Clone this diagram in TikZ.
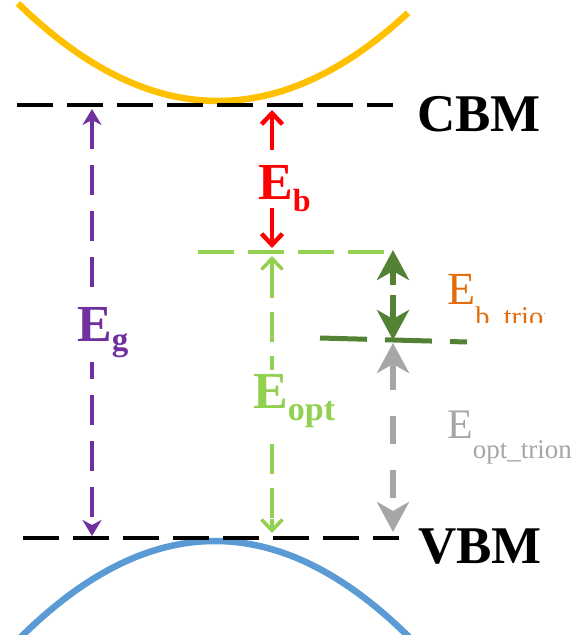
\documentclass[tikz,border=0pt]{standalone}
\usepackage{fontspec}
\setmainfont{Liberation Serif}
\usetikzlibrary{arrows.meta}
\definecolor{cbband}{RGB}{255,192,0}
\definecolor{vbband}{RGB}{91,155,213}
\definecolor{gapviolet}{RGB}{112,48,160}
\definecolor{optgreen}{RGB}{146,208,80}
\definecolor{triogreen}{RGB}{84,130,53}
\definecolor{triorange}{RGB}{228,108,10}
\definecolor{triogray}{RGB}{166,166,166}

\begin{document}
\begin{tikzpicture}[x=1pt,y=-1pt,
    level/.style={line width=4pt,dash pattern=on 36pt off 14pt},
    barb/.style={-{Straight Barb[length=11pt,width=21pt]}},
    big/.style={anchor=base west,inner sep=0pt,font=\fontsize{52}{52}\selectfont\bfseries},
    thin/.style={anchor=base west,inner sep=0pt,font=\fontsize{45}{45}\selectfont}]
    \useasboundingbox (0,0) rectangle (582,635);
    % bands
    \draw[cbband, line width=6.5pt] plot[domain=18:408, samples=80] (\x, {101-24.4*((\x-218)/100)^2});
    \draw[vbband, line width=6.5pt] plot[domain=18:410, samples=80] (\x, {541+25.5*((\x-215)/100)^2});
    % levels
    \coordinate (cbmL) at (17,105); \coordinate (cbmR) at (393,105);
    \coordinate (vbmL) at (23,538); \coordinate (vbmR) at (399,538);
    \coordinate (exL) at (198,252); \coordinate (exR) at (384,252);
    \coordinate (trL) at (320,338); \coordinate (trR) at (467,342);
    \draw[level] (cbmL) -- (cbmR);
    \draw[level] (vbmL) -- (vbmR);
    \draw[optgreen, line width=3.5pt, dash pattern=on 36pt off 14pt] (exL) -- (exR);
    \draw[triogreen, line width=5pt, dash pattern=on 47pt off 18pt] (trL) -- (trR);
    \node[big] (cbm) at (417,131) {\fontsize{53}{53}\selectfont CBM};
    \node[big] (vbm) at (418,563) {\fontsize{53}{53}\selectfont VBM};
    % band gap
    \coordinate (gT) at (92,109); \coordinate (gB) at (92,536);
    \draw[gapviolet, line width=3.5pt, dash pattern=on 30pt off 16pt,
        {Stealth[length=16pt,width=19pt,inset=5pt]}-{Stealth[length=16pt,width=19pt,inset=5pt]}] (gT) -- (gB);
    \node[big, text=gapviolet, fill=white, inner sep=5pt] (eg) at (72,341) {E\raisebox{-9pt}{\fontsize{33}{33}\selectfont g}};
    % binding energy
    \coordinate (b1) at (272,150); \coordinate (b2) at (272,110);
    \coordinate (b3) at (272,208); \coordinate (b4) at (272,248);
    \draw[red, line width=4.5pt, barb] (b1) -- (b2);
    \draw[red, line width=4.5pt, barb] (b3) -- (b4);
    \node[big, text=red] (eb) at (258,199) {E\raisebox{-12pt}{\fontsize{32}{32}\selectfont b}};
    % optical gap
    \coordinate (oT) at (272,256); \coordinate (oB) at (272,533);
    \draw[optgreen, line width=3.5pt, dash pattern=on 30pt off 14pt] ([yshift=-12pt]oT) -- ([yshift=12pt]oB);
    \draw[optgreen, line width=3.5pt, barb] ([yshift=-14pt]oT) -- (oT);
    \draw[optgreen, line width=3.5pt, barb] ([yshift=14pt]oB) -- (oB);
    \node[big, text=optgreen, fill=white, inner sep=4pt] (eopt) at (249,408) {E\raisebox{-12pt}{\fontsize{34}{34}\selectfont opt}};
    % trion binding energy
    \coordinate (t1) at (393,285); \coordinate (t2) at (393,250);
    \coordinate (t3) at (393,295); \coordinate (t4) at (393,340);
    \draw[triogreen, line width=6pt, -{Stealth[length=30pt,width=32pt,inset=9pt]}] (t1) -- (t2);
    \draw[triogreen, line width=6pt, -{Stealth[length=30pt,width=32pt,inset=9pt]}] (t3) -- (t4);
    \begin{scope}
        \clip (440,255) rectangle (544,322);
        \node[thin, text=triorange] (ebt) at (447,304) {\fontsize{46}{46}\selectfont E\raisebox{-22pt}{\fontsize{28.5}{28.5}\selectfont b\_trion}};
    \end{scope}
    % trion optical gap
    \coordinate (rT) at (393,343); \coordinate (rB) at (393,532);
    \draw[triogray, line width=6pt, dash pattern=on 28pt off 26pt,
        {Stealth[length=30pt,width=32pt,inset=9pt]}-{Stealth[length=30pt,width=32pt,inset=9pt]}] (rT) -- (rB);
    \node[thin, text=triogray] (eopt2) at (447,438) {\fontsize{42}{42}\selectfont E\raisebox{-20pt}{\fontsize{27}{27}\selectfont opt\_trion}};
\end{tikzpicture}
\end{document}
